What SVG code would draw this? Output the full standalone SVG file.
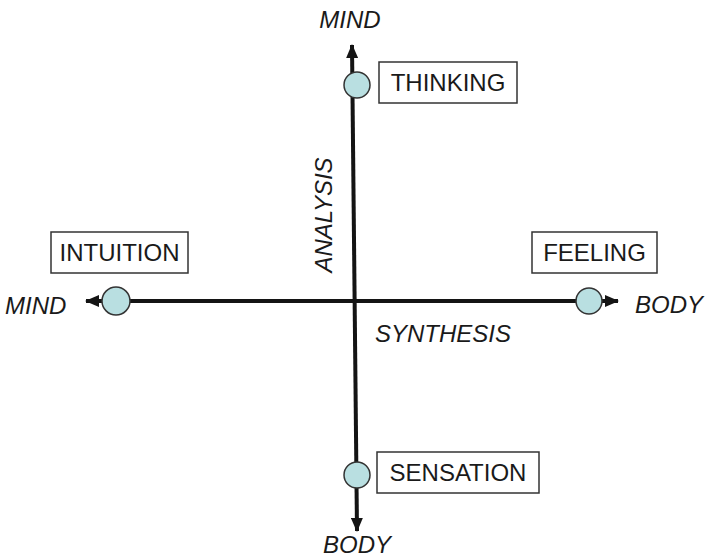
<svg xmlns="http://www.w3.org/2000/svg" width="709" height="559" viewBox="0 0 709 559">
<defs>
<style>
.ax{stroke:#141414;stroke-width:4;fill:none}
.dot{fill:#b9dfe1;stroke:#333;stroke-width:1.5}
.box{fill:#fff;stroke:#333;stroke-width:1.5}
.lbl{font-family:"Liberation Sans",Arial,sans-serif;font-size:24px;fill:#1a1a1a}
.it{font-family:"Liberation Sans",Arial,sans-serif;font-size:24px;font-style:italic;fill:#1a1a1a}
</style>
<marker id="ah" viewBox="0 0 14 12" markerWidth="14" markerHeight="12" refX="13" refY="6" orient="auto-start-reverse" markerUnits="userSpaceOnUse">
<path d="M0,0 L14,6 L0,12 z" fill="#141414"/>
</marker>
</defs>
<rect width="709" height="559" fill="#fff"/>
<g id="connectors">
<path class="ax" d="M352,45 L357,531" marker-start="url(#ah)" marker-end="url(#ah)"/>
<path class="ax" d="M86,301 L618,301" marker-start="url(#ah)" marker-end="url(#ah)"/>
</g>
<g id="thinking">
<circle class="dot" cx="357" cy="85" r="13"/>
<rect class="box" x="379" y="62" width="138" height="41"/>
<text class="lbl" x="448" y="91" text-anchor="middle">THINKING</text>
</g>
<g id="sensation">
<circle class="dot" cx="357" cy="475" r="13"/>
<rect class="box" x="377" y="452" width="162" height="41"/>
<text class="lbl" x="458" y="481" text-anchor="middle">SENSATION</text>
</g>
<g id="intuition">
<circle class="dot" cx="116" cy="301" r="14"/>
<rect class="box" x="51" y="232" width="137" height="41"/>
<text class="lbl" x="119.5" y="261" text-anchor="middle">INTUITION</text>
</g>
<g id="feeling">
<circle class="dot" cx="589" cy="301" r="13"/>
<rect class="box" x="532" y="232" width="125" height="41"/>
<text class="lbl" x="594.5" y="261" text-anchor="middle">FEELING</text>
</g>
<g id="axis-labels">
<text class="it" x="350" y="28" text-anchor="middle">MIND</text>
<text class="it" x="357" y="553" text-anchor="middle">BODY</text>
<text class="it" x="5" y="314">MIND</text>
<text class="it" x="635" y="313">BODY</text>
<text class="it" transform="translate(332,215) rotate(-90)" text-anchor="middle">ANALYSIS</text>
<text class="it" x="375" y="342">SYNTHESIS</text>
</g>
</svg>
